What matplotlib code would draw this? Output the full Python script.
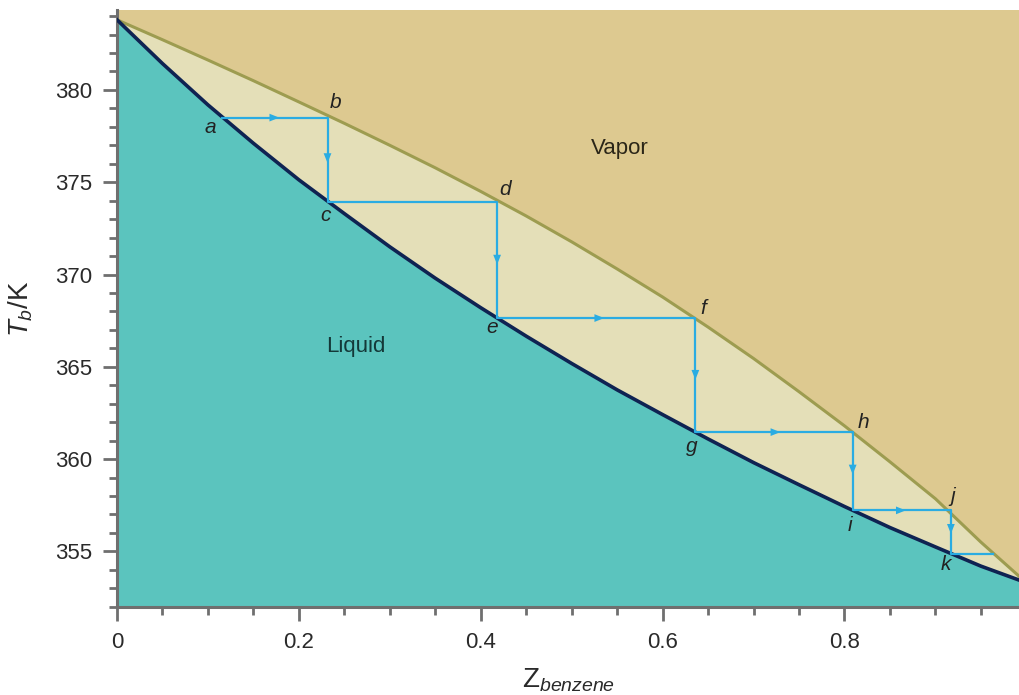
import numpy as np
import matplotlib.pyplot as plt
from matplotlib.ticker import MultipleLocator

plt.rcParams['font.family'] = ['Liberation Sans', 'DejaVu Sans']
plt.rcParams['mathtext.fontset'] = 'custom'
plt.rcParams['mathtext.rm'] = 'Liberation Sans'
plt.rcParams['mathtext.it'] = 'Liberation Sans:italic'

# bubble-point (liquid) and dew-point (vapor) curves
x_curve = [0.0, 0.05, 0.10, 0.15, 0.20, 0.25, 0.30, 0.35, 0.40, 0.45, 0.50,
           0.55, 0.60, 0.65, 0.70, 0.75, 0.80, 0.85, 0.90, 0.95, 1.0]
t_liquid = [383.8, 381.43, 379.19, 377.11, 375.13, 373.30, 371.50, 369.80, 368.20,
            366.66, 365.18, 363.75, 362.41, 361.09, 359.81, 358.61, 357.43,
            356.29, 355.24, 354.20, 353.30]
t_vapor = [383.8, 382.72, 381.62, 380.50, 379.35, 378.19, 377.00, 375.78, 374.50,
           373.17, 371.77, 370.30, 368.78, 367.15, 365.45, 363.65, 361.80,
           359.85, 357.85, 355.50, 353.30]

# distillation steps: corner points a..k plus the end of the last tie line
step_x = [0.116, 0.2315, 0.2315, 0.418, 0.418, 0.636, 0.636, 0.809, 0.809, 0.917, 0.917, 0.963]
step_t = [378.5, 378.5, 373.95, 373.95, 367.64, 367.64, 361.46, 361.46, 357.22, 357.22, 354.88, 354.88]
point_names = ['a', 'b', 'c', 'd', 'e', 'f', 'g', 'h', 'i', 'j', 'k']
# label offsets in pixels (right, down)
label_dx = [-12, 8, -2, 8, -5, 8, -4, 11, -3, 2, -5]
label_dy = [10, -15, 14, -12, 9, -10, 14, -10, 15, -14, 11]
# segments that carry an arrow (index of start point)
arrow_segments = [0, 1, 3, 4, 5, 6, 7, 8, 9]

fig = plt.figure(figsize=(10.2, 6.95), dpi=100)
ax = fig.add_axes([0.1147, 0.127, 0.8853, 0.8586])

ax.set_xlim(0, 0.993)
ax.set_ylim(352.0, 384.33)
ax.set_facecolor('#ddc990')

ax.fill_between(x_curve, t_liquid, t_vapor, color='#e4dfb8', lw=0)
ax.fill_between(x_curve, 340, t_liquid, color='#5bc4be', lw=0)
ax.plot(x_curve, t_vapor, color='#9d9c50', lw=2.2, zorder=3)
ax.plot(x_curve, t_liquid, color='#0f2352', lw=2.6, zorder=3)

blue = '#2aace2'
ax.plot(step_x, step_t, color=blue, lw=1.6, zorder=4)
for i in arrow_segments:
    xm = (step_x[i] + step_x[i + 1]) / 2
    tm = (step_t[i] + step_t[i + 1]) / 2
    dx = step_x[i + 1] - step_x[i]
    dt = step_t[i + 1] - step_t[i]
    ax.annotate('', xy=(xm + dx * 0.04, tm + dt * 0.04), xytext=(xm - dx * 0.04, tm - dt * 0.04),
                arrowprops=dict(arrowstyle='-|>,head_length=0.7,head_width=0.28',
                                color=blue, lw=0, shrinkA=0, shrinkB=0), zorder=5)

for name, px, pt, ddx, ddy in zip(point_names, step_x, step_t, label_dx, label_dy):
    ax.annotate(name, (px, pt), xytext=(ddx * 0.72, -ddy * 0.72), textcoords='offset points',
                ha='center', va='center', fontsize=15, style='italic', color='#222222', zorder=6)

ax.text(0.553, 376.8, 'Vapor', fontsize=16, ha='center', va='center', color='#2b2618')
ax.text(0.263, 366.1, 'Liquid', fontsize=16, ha='center', va='center', color='#143838')

ax.xaxis.set_major_locator(MultipleLocator(0.2))
ax.xaxis.set_minor_locator(MultipleLocator(0.05))
ax.yaxis.set_major_locator(MultipleLocator(5))
ax.yaxis.set_minor_locator(MultipleLocator(1))
ax.set_xticks([0, 0.2, 0.4, 0.6, 0.8])
ax.set_xticklabels(['0', '0.2', '0.4', '0.6', '0.8'])

for side in ['top', 'right']:
    ax.spines[side].set_visible(False)
for side in ['left', 'bottom']:
    ax.spines[side].set_color('#6f6f6f')
    ax.spines[side].set_linewidth(2.2)

ax.tick_params(which='major', length=10, width=2, color='#6f6f6f', labelsize=16,
               labelcolor='#2a2a2a', pad=8)
ax.tick_params(which='minor', length=6, width=2, color='#6f6f6f')

ax.set_xlabel(r'$\mathrm{Z}_{benzene}$', fontsize=20, color='#2a2a2a', labelpad=10)
ax.set_ylabel(r'$T_b\mathrm{/K}$', fontsize=20, color='#2a2a2a', labelpad=14)

plt.savefig('out.png', dpi=100)
